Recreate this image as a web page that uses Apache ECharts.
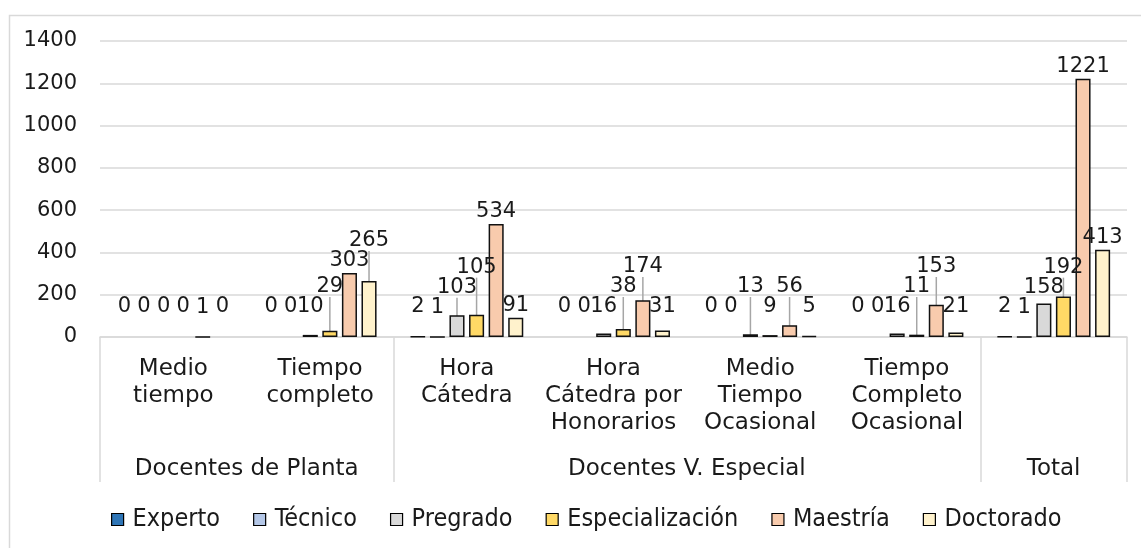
<!DOCTYPE html>
<html>
<head>
<meta charset="utf-8">
<script src="https://cdn.jsdelivr.net/npm/echarts@6/dist/echarts.min.js"></script>
<style>
  html, body { margin: 0; padding: 0; background: #fff; }
  #chart { width: 1141px; height: 548px; }
</style>
</head>
<body>
<div id="chart"></div>
<script>
// categorias (primer nivel) y grupos (segundo nivel)
const categories = ['Medio tiempo', 'Tiempo completo', 'Hora Cátedra', 'Hora Cátedra por Honorarios',
  'Medio Tiempo Ocasional', 'Tiempo Completo Ocasional', 'Total']
const categoryLabels = ['Medio\ntiempo', 'Tiempo\ncompleto', 'Hora\nCátedra', 'Hora\nCátedra por\nHonorarios',
  'Medio\nTiempo\nOcasional', 'Tiempo\nCompleto\nOcasional', '']
const groups = ['Docentes de Planta', 'Docentes V. Especial', 'Total']
const groupSpans = [2, 4, 1]

const seriesNames = ['Experto', 'Técnico', 'Pregrado', 'Especialización', 'Maestría', 'Doctorado']
const experto = [0, 0, 2, 0, 0, 0, 2]
const tecnico = [0, 0, 1, 0, 0, 0, 1]
const pregrado = [0, 10, 103, 16, 13, 16, 158]
const especializacion = [0, 29, 105, 38, 9, 11, 192]
const maestria = [1, 303, 534, 174, 56, 153, 1221]
const doctorado = [0, 265, 91, 31, 5, 21, 413]

const yTicks = { min: 0, max: 1400, interval: 200 }

const colors = ['#2E75B6', '#B4C7E7', '#D9D9D9', '#FFD966', '#F8CBAD', '#FFF2CC']
const FONT = "'DejaVu Sans', sans-serif"
const TXT = '#1a1a1a'

// group boundaries / centers on a 0..N value axis
const bounds = [0]
groupSpans.forEach(s => bounds.push(bounds[bounds.length - 1] + s))
const centers = groupSpans.map((s, i) => bounds[i] + s / 2)

// labels: sit above the bar (never lower than a minimum height), lifted when they
// collide with a label already placed in the same category, or when they would
// touch both neighbours on the base row
let pass = 0
let placed = {}
const firstRects = {}
const lifted = {}
const overlaps = (a, b, pad) => a.x1 < b.x2 + pad && a.x2 > b.x1 - pad && a.y1 < b.y2 && a.y2 > b.y1

function layoutLabel (p) {
  const s = p.seriesIndex
  const i = p.dataIndex
  if (s === 0 && i === 0) placed = {}
  const list = placed[i] || (placed[i] = [])
  const w = p.labelRect.width
  const h = p.labelRect.height - 2
  const cx = p.rect.x + p.rect.width / 2
  const barTop = Math.min(p.rect.y, p.rect.y + p.rect.height)
  const axisY = Math.max(p.rect.y, p.rect.y + p.rect.height)
  let bottom = Math.min(barTop - 2, axisY - 20)
  const rectAt = b => ({ s, x1: cx - w / 2, x2: cx + w / 2, y1: b - h, y2: b })
  let up = false
  const resolve = () => {
    let moved = true
    while (moved) {
      moved = false
      for (const r of list) {
        if (overlaps(rectAt(bottom), r, -1)) {
          bottom = r.y1 - 1
          moved = true
          up = true
        }
      }
    }
  }
  resolve()
  if (pass > 1 && !up) {
    const left = list.find(r => r.s === s - 1)
    const right = (firstRects[i] || {})[s + 1]
    const cur = rectAt(bottom)
    if (left && right && right.base && overlaps(cur, left, 1) && overlaps(cur, right, 1)) {
      bottom = left.y1 - 1
      up = true
      resolve()
    }
  }
  const r = rectAt(bottom)
  list.push(r)
  if (pass === 1) {
    (firstRects[i] || (firstRects[i] = {}))[s] = Object.assign({ base: !up }, r)
  }
  lifted[s + '-' + i] = up && barTop - bottom > 10
  return { x: cx, y: bottom, align: 'center', verticalAlign: 'bottom' }
}

const allValues = [experto, tecnico, pregrado, especializacion, maestria, doctorado]

function buildSeries () {
  return seriesNames.map((name, s) => ({
    name,
    type: 'bar',
    xAxisIndex: 0,
    barGap: '30%',
    barCategoryGap: '23%',
    itemStyle: { color: colors[s], borderColor: '#111', borderWidth: 1.5 },
    data: allValues[s].map((v, i) => ({
      value: v,
      itemStyle: v === 0 ? { borderWidth: 0 } : {},
      labelLine: { show: !!lifted[s + '-' + i] }
    })),
    label: { show: true, position: 'top', fontSize: 21, color: TXT },
    labelLine: { show: false, lineStyle: { color: '#a6a6a6', width: 1.5 } },
    labelLayout: layoutLabel
  }))
}

const option = {
  animation: false,
  textStyle: { fontFamily: FONT },
  graphic: [{
    type: 'rect', left: 7, top: 13,
    shape: { width: 1160, height: 560 },
    style: { fill: 'none', stroke: '#d9d9d9', lineWidth: 1.5 },
    silent: true, z: -1
  }],
  grid: { left: 100, right: 14, top: 41, bottom: 211 },
  legend: {
    data: seriesNames,
    left: 106,
    top: 502,
    icon: 'rect',
    itemWidth: 12,
    itemHeight: 12,
    itemGap: 33,
    itemStyle: { borderColor: '#000', borderWidth: 1.2 },
    textStyle: { fontFamily: "'DejaVu Sans Condensed', 'Liberation Sans Narrow', sans-serif", fontSize: 25, color: TXT, padding: [0, 0, 0, 4] }
  },
  xAxis: [{
    type: 'category',
    data: categories,
    axisLine: { lineStyle: { color: '#d9d9d9', width: 1.5 } },
    axisTick: { show: false },
    axisLabel: {
      interval: 0,
      margin: 19,
      fontSize: 23,
      lineHeight: 27,
      color: TXT,
      formatter: (v, i) => categoryLabels[i]
    }
  }, {
    type: 'value',
    position: 'bottom',
    min: 0,
    max: bounds[bounds.length - 1],
    axisLine: { show: false },
    splitLine: { show: false },
    axisTick: {
      show: true,
      customValues: bounds,
      length: 145,
      lineStyle: { color: '#d9d9d9', width: 1.5 }
    },
    axisLabel: {
      customValues: centers,
      margin: 121,
      fontSize: 23,
      color: TXT,
      formatter: v => groups[centers.indexOf(v)]
    }
  }],
  yAxis: {
    type: 'value',
    min: yTicks.min,
    max: yTicks.max,
    interval: yTicks.interval,
    axisLine: { show: false },
    axisTick: { show: false },
    splitLine: { lineStyle: { color: '#d9d9d9', width: 1.5 } },
    axisLabel: { fontSize: 21, color: TXT, margin: 23, formatter: v => String(v) }
  },
  series: buildSeries()
}

const chart = echarts.init(document.getElementById('chart'))
pass = 1
chart.setOption(option)
// later passes: apply the neighbour rule, then show leader lines on lifted labels
pass = 2
chart.setOption({ series: buildSeries() })
pass = 3
chart.setOption({ series: buildSeries() })
</script>
</body>
</html>
